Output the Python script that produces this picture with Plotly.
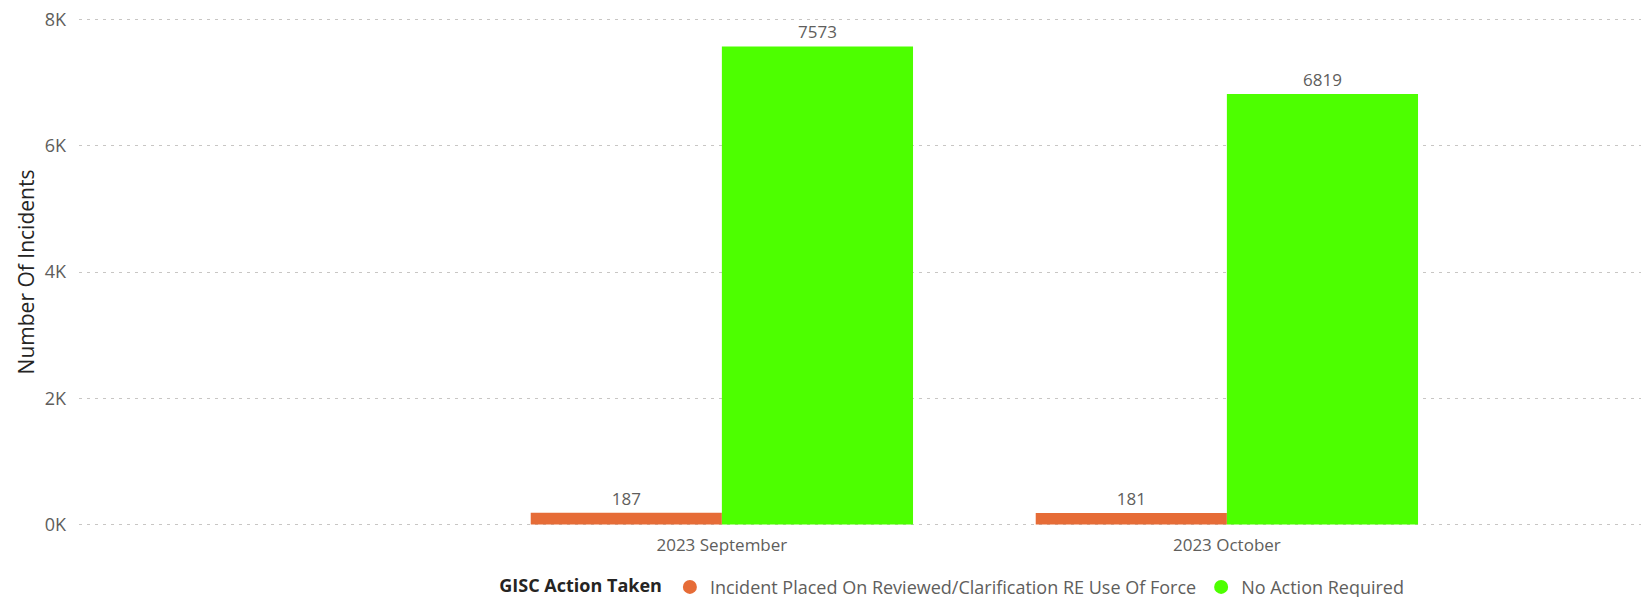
import plotly.graph_objects as go

categories = ["2023 September", "2023 October"]
series_names = ["Incident Placed On Reviewed/Clarification RE Use Of Force", "No Action Required"]
reviewed_values = [187, 181]
no_action_values = [7573, 6819]
tick_values = [0, 2000, 4000, 6000, 8000]
tick_labels = ["0K", "2K", "4K", "6K", "8K"]
colors = ["#E66C37", "#4DFF00"]

FONT = "Open Sans, Segoe UI, sans-serif"

fig = go.Figure()
for name, vals, col in zip(series_names, [reviewed_values, no_action_values], colors):
    fig.add_trace(go.Bar(
        x=categories, y=vals, name=name, marker=dict(color=col, line=dict(width=0)),
        text=[str(v) for v in vals], textposition="outside",
        textfont=dict(family=FONT, size=17, color="#605E5C"),
        cliponaxis=False, showlegend=False,
    ))
# legend entries with circular markers
for name, col in zip(series_names, colors):
    fig.add_trace(go.Scatter(
        x=[None], y=[None], mode="markers", name=name,
        marker=dict(symbol="circle", size=14, color=col), showlegend=True,
    ))

fig.update_layout(
    width=1641, height=597,
    margin=dict(l=71, r=6, t=9, b=78, autoexpand=False),
    plot_bgcolor="white", paper_bgcolor="white",
    barmode="group", bargap=0.243, bargroupgap=0,
    font=dict(family=FONT, color="#605E5C"),
    xaxis=dict(
        type="category", range=[-1.273, 1.824], showgrid=False, zeroline=False,
        showline=False, ticks="", ticklabelstandoff=6,
        tickfont=dict(family=FONT, size=17, color="#605E5C"),
    ),
    yaxis=dict(
        range=[-40, 8040], tickvals=tick_values, ticktext=tick_labels,
        showgrid=True, gridcolor="#C8C6C4", griddash="3px,5px", gridwidth=1,
        zeroline=False, showline=False, ticks="", ticklabelstandoff=12,
        ticklabeloverflow="allow",
        tickfont=dict(family=FONT, size=18, color="#605E5C"),
        title=dict(text="Number Of Incidents", font=dict(family=FONT, size=21, color="#252423"), standoff=4),
    ),
    legend=dict(
        orientation="h", x=0.559, xanchor="center", y=-0.118, yanchor="middle",
        title=dict(text="<b>GISC Action Taken</b>", font=dict(family=FONT, size=18, color="#252423")),
        font=dict(family=FONT, size=18, color="#605E5C"),
        itemwidth=30, tracegroupgap=0,
    ),
)

fig.write_html("out.html")
